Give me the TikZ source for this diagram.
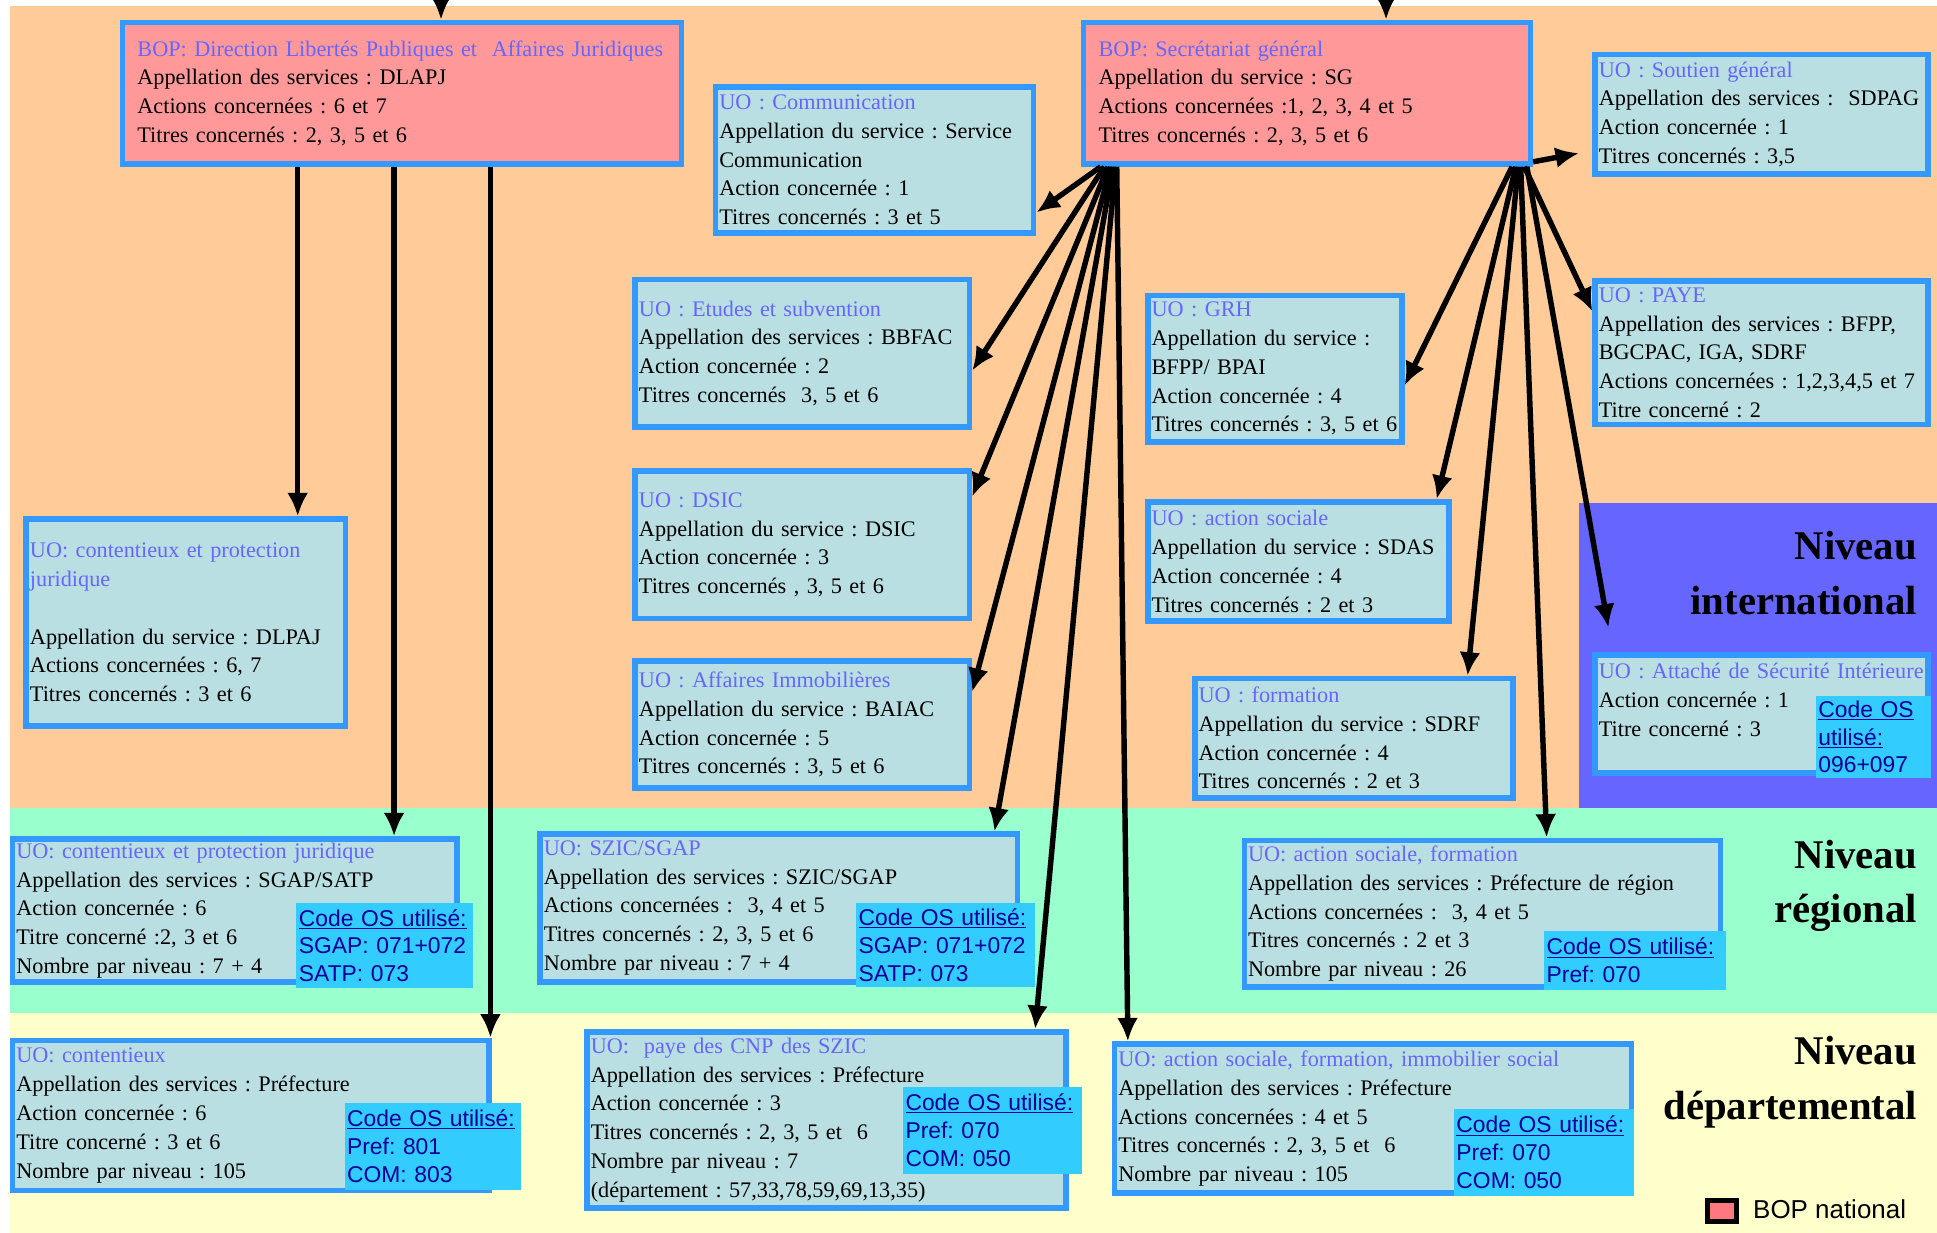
\documentclass[tikz,border=0pt]{standalone}
\usepackage{fontspec}
\setmainfont{Liberation Serif}
\setsansfont{Liberation Sans}
\usetikzlibrary{arrows.meta}
\frenchspacing

\definecolor{fondorange}{RGB}{255,204,153}
\definecolor{fondvert}{RGB}{153,255,204}
\definecolor{fondjaune}{RGB}{255,255,204}
\definecolor{fondviolet}{RGB}{102,102,255}
\definecolor{cadre}{RGB}{51,153,255}
\definecolor{fonduo}{RGB}{185,223,227}
\definecolor{fondbop}{RGB}{255,153,153}
\definecolor{titreuo}{RGB}{102,102,255}
\definecolor{fondcode}{RGB}{51,204,255}
\definecolor{textecode}{RGB}{0,0,153}
\definecolor{legrose}{RGB}{255,120,128}

\newcommand{\corps}{\fontsize{18}{23.3}\selectfont}
\newcommand{\codefont}{\sffamily\fontsize{18.5}{22.6}\selectfont}
\newcommand{\niveaufont}{\fontsize{33}{44}\selectfont\bfseries}
\newcommand{\titre}[1]{\textcolor{titreuo}{#1}}

\begin{document}
\begin{tikzpicture}[x=1pt, y=-1pt,
    uo/.style 2 args={draw=cadre, line width=4.5pt, fill=fonduo, anchor=north west,
      minimum width=#1, minimum height=#2, text width=#1-6pt, inner xsep=3pt,
      inner ysep=0pt, align=left, font=\corps},
    bop/.style 2 args={uo={#1}{#2}, fill=fondbop, text width=#1-24pt, inner xsep=12pt},
    code/.style 2 args={fill=fondcode, text=textecode, anchor=north west,
      minimum width=#1, minimum height=#2, text width=#1-4pt, inner xsep=2pt,
      inner ysep=0pt, outer sep=0pt, align=left, font=\codefont},
    niveau/.style={anchor=east, align=right, inner sep=0pt, font=\niveaufont},
    fleche/.style={line width=4.4pt, >={Latex[length=19pt,width=17pt]}, ->}]
    \useasboundingbox (0,0) rectangle (1568,998);
    \fill[white] (0,0) rectangle (1568,998);
    % les trois niveaux
    \fill[fondorange] (8,5) rectangle (1568,654);
    \fill[fondviolet] (1278,407) rectangle (1568,654);
    \fill[fondvert] (8,654) rectangle (1568,820);
    \fill[fondjaune] (8,820) rectangle (1568,998);

    \node[niveau] (nivinter) at (1552,464) {Niveau\\international};
    \node[niveau] (nivreg) at (1552,717) {Niveau\\régional};
    \node[niveau] (nivdep) at (1552,876) {Niveau\\départemental};

    % BOP
    \node[bop={452.5pt}{114.5pt}] (bopdlpaj) at (97,16) {\titre{BOP: Direction Libertés Publiques et\ \ Affaires Juridiques}\\
      Appellation des services : DLAPJ\\ Actions concernées : 6 et 7\\ Titres concernés : 2, 3, 5 et 6};
    \node[bop={361.5pt}{114.5pt}] (bopsg) at (875,16) {\titre{BOP: Secrétariat général}\\
      Appellation du service : SG\\ Actions concernées :1, 2, 3, 4 et 5\\ Titres concernés : 2, 3, 5 et 6};

    % UO niveau central
    \node[uo={257.5pt}{118.5pt}] (comm) at (577,68) {\titre{UO : Communication}\\
      Appellation du service : Service\\ Communication\\ Action concernée : 1\\ Titres concernés : 3 et 5};
    \node[uo={269.5pt}{96.5pt}] (soutien) at (1289,42) {\titre{UO : Soutien général}\\
      Appellation des services :~ SDPAG\\ Action concernée : 1\\ Titres concernés : 3,5};
    \node[uo={270.5pt}{119.5pt}] (etudes) at (512,224) {\titre{UO : Etudes et subvention}\\
      Appellation des services : BBFAC\\ Action concernée : 2\\ Titres concernés~ 3, 5 et 6};
    \node[uo={205.5pt}{118.5pt}] (grh) at (927,237) {\titre{UO : GRH}\\
      Appellation du service :\\ BFPP/ BPAI\\ Action concernée : 4\\ Titres concernés : 3, 5 et 6};
    \node[uo={269.5pt}{116.5pt}] (paye) at (1289,225) {\titre{UO : PAYE}\\
      Appellation des services : BFPP,\\ BGCPAC, IGA, SDRF\\ Actions concernées : 1,2,3,4,5 et 7\\ Titre concerné : 2};
    \node[uo={270.5pt}{119.5pt}] (dsic) at (512,379) {\titre{UO : DSIC}\\
      Appellation du service : DSIC\\ Action concernée : 3\\ Titres concernés , 3, 5 et 6};
    \node[uo={243.5pt}{96.5pt}] (asoc) at (927,404) {\titre{UO : action sociale}\\
      Appellation du service : SDAS\\ Action concernée : 4\\ Titres concernés : 2 et 3};
    \node[uo={258.5pt}{167.5pt}] (contjur) at (19,418) {\titre{UO: contentieux et protection}\\ \titre{juridique}\\ \mbox{}\\
      Appellation du service : DLPAJ\\ Actions concernées : 6, 7\\ Titres concernés : 3 et 6};
    \node[uo={270.5pt}{102.5pt}] (immo) at (512,533) {\titre{UO : Affaires Immobilières}\\
      Appellation du service : BAIAC\\ Action concernée : 5\\ Titres concernés : 3, 5 et 6};
    \node[uo={257.5pt}{96.5pt}] (form) at (965,547) {\titre{UO : formation}\\
      Appellation du service : SDRF\\ Action concernée : 4\\ Titres concernés : 2 et 3};
    \node[uo={269.5pt}{95.5pt}] (attache) at (1289,528) {\titre{UO : Attaché de Sécurité Intérieure}\\
      Action concernée : 1\\ Titre concerné : 3\\ \mbox{}};
    \node[code={93pt}{67pt}] (codeattache) at (1470,563) {\underline{Code OS}\\ \underline{utilisé:}\\ 096+097};

    % UO niveau regional
    \node[uo={359.5pt}{115.5pt}] (rcont) at (8,677) {\titre{UO: contentieux et protection juridique}\\
      Appellation des services : SGAP/SATP\\ Action concernée : 6\\ Titre concerné :2, 3 et 6\\ Nombre par niveau : 7 + 4};
    \node[code={143pt}{69pt}] (coderc) at (240,731) {\underline{Code OS utilisé:}\\ SGAP: 071+072\\ SATP: 073};
    \node[uo={386.5pt}{119.5pt}] (szic) at (435,673) {\titre{UO: SZIC/SGAP}\\
      Appellation des services : SZIC/SGAP\\ Actions concernées :~ 3, 4 et 5\\ Titres concernés : 2, 3, 5 et 6\\ Nombre par niveau : 7 + 4};
    \node[code={145pt}{68pt}] (codeszic) at (693,731) {\underline{Code OS utilisé:}\\ SGAP: 071+072\\ SATP: 073};
    \node[uo={385.5pt}{118.5pt}] (rasf) at (1005,678) {\titre{UO: action sociale, formation}\\
      Appellation des services : Préfecture de région\\ Actions concernées :~ 3, 4 et 5\\ Titres concernés : 2 et 3\\ Nombre par niveau : 26};
    \node[code={147pt}{47pt}] (coderasf) at (1250,754) {\underline{Code OS utilisé:}\\ Pref: 070};

    % UO niveau departemental
    \node[uo={385.5pt}{121.5pt}] (dcont) at (8,840) {\titre{UO: contentieux}\\
      Appellation des services : Préfecture\\ Action concernée : 6\\ Titre concerné : 3 et 6\\ Nombre par niveau : 105};
    \node[code={143pt}{70pt}] (codedc) at (279,893) {\underline{Code OS utilisé:}\\ Pref: 801\\ COM: 803};
    \node[uo={387.5pt}{142.5pt}] (cnp) at (473,833) {\titre{UO:~ paye des CNP des SZIC}\\
      Appellation des services : Préfecture\\ Action concernée : 3\\ Titres concernés : 2, 3, 5 et~ 6\\ Nombre par niveau : 7\\ (département : 57,33,78,59,69,13,35)};
    \node[code={145pt}{70pt}] (codecnp) at (731,880) {\underline{Code OS utilisé:}\\ Pref: 070\\ COM: 050};
    \node[uo={418.5pt}{120.5pt}] (dasf) at (900,843) {\titre{UO: action sociale, formation, immobilier social}\\
      Appellation des services : Préfecture\\ Actions concernées : 4 et 5\\ Titres concernés : 2, 3, 5 et~ 6\\ Nombre par niveau : 105};
    \node[code={146pt}{70pt}] (codedasf) at (1177,898) {\underline{Code OS utilisé:}\\ Pref: 070\\ COM: 050};

    % legende
    \node[draw=black, line width=4pt, fill=legrose, anchor=north west, inner sep=0pt,
      minimum width=24pt, minimum height=17pt] (legbop) at (1380,970) {};
    \node[anchor=west, inner sep=0pt, font=\sffamily\fontsize{21}{24}\selectfont] (legtexte) at (1419,979) {BOP national};

    % fleches
    \coordinate (entree1) at (357,-6);
    \coordinate (entree2) at (1122,-6);
    \coordinate (versinter) at (1302,508);
    \draw[fleche] (entree1) -- (entree1 |- bopdlpaj.north);
    \draw[fleche] (entree2) -- (entree2 |- bopsg.north);

    \draw[fleche] (bopdlpaj.south -| 241,0) -- (contjur.north -| 241,0);
    \draw[fleche] (bopdlpaj.south -| 319,0) -- (rcont.north -| 319,0);
    \draw[fleche] (bopdlpaj.south -| 397,0) -- (dcont.north -| 397,0);

    \draw[fleche] (bopsg.south -| 891,0) -- (comm.east |- 0,172);
    \draw[fleche] (bopsg.south -| 894,0) -- (etudes.east |- 0,300);
    \draw[fleche] (bopsg.south -| 897,0) -- (dsic.east |- 0,402);
    \draw[fleche] (bopsg.south -| 899,0) -- (immo.east |- 0,560);
    \draw[fleche] (bopsg.south -| 901,0) -- (szic.north -| 805,0);
    \draw[fleche] (bopsg.south -| 903,0) -- (cnp.north -| 838,0);
    \draw[fleche] (bopsg.south -| 904,0) -- (dasf.north -| 913,0);

    \draw[fleche, shorten >=11pt] (bopsg.east |- 0,131) -- (soutien.west |- 0,122);
    \draw[fleche] (bopsg.south -| 1224,0) -- (grh.east |- 0,312);
    \draw[fleche] (bopsg.south -| 1227,0) -- (asoc.north -| 1163,0);
    \draw[fleche] (bopsg.south -| 1229,0) -- (form.north -| 1188,0);
    \draw[fleche] (bopsg.south -| 1231,0) -- (rasf.north -| 1252,0);
    \draw[fleche] (bopsg.south -| 1234,0) -- (paye.west |- 0,252);
    \draw[fleche] (bopsg.south -| 1236,0) -- (versinter);
\end{tikzpicture}
\end{document}
